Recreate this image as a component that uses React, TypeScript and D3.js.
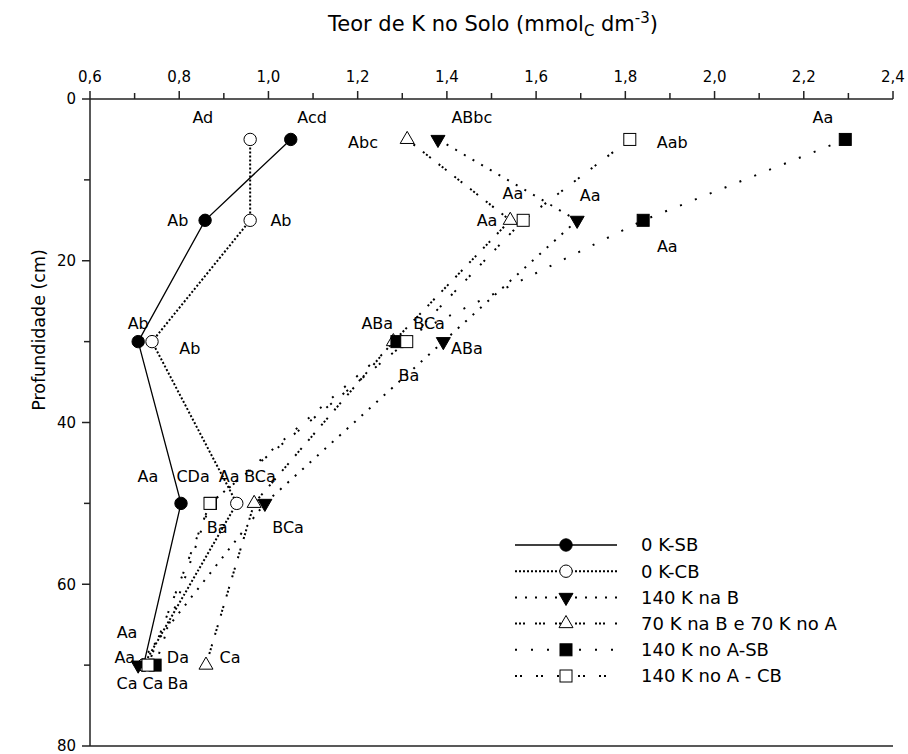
import React, { useEffect } from 'react';
import * as d3 from 'd3';

// depths (cm) and K content per treatment
const depths = [5, 15, 30, 50, 70];
const k0SB = [1.05, 0.858, 0.708, 0.804, 0.72];
const k0CB = [0.959, 0.959, 0.739, 0.929, 0.72];
const k140B = [1.38, 1.692, 1.392, 0.992, 0.708];
const k70B70A = [1.311, 1.542, 1.28, 0.968, 0.86];
const k140ASB = [2.293, 1.84, 1.288, 0.87, 0.746];
const k140ACB = [1.81, 1.571, 1.31, 0.869, 0.73];

const xTicks = [0.6, 0.8, 1.0, 1.2, 1.4, 1.6, 1.8, 2.0, 2.2, 2.4];
const yTicks = [0, 20, 40, 60, 80];

// letter annotations: [text, K value, depth]
const letters: [string, number, number][] = [
  ['Ad', 0.853, 2.2], ['Acd', 1.098, 2.2], ['Abc', 1.212, 5.4], ['ABbc', 1.456, 2.2],
  ['Aab', 1.905, 5.4], ['Aa', 2.243, 2.2],
  ['Ab', 0.797, 15], ['Ab', 1.028, 15], ['Aa', 1.548, 11.7], ['Aa', 1.721, 11.9],
  ['Aa', 1.49, 15], ['Aa', 1.894, 18.2],
  ['Ab', 0.708, 27.7], ['Ab', 0.824, 30.8], ['ABa', 1.244, 27.7], ['BCa', 1.36, 27.7],
  ['ABa', 1.445, 30.8], ['Ba', 1.315, 34.1],
  ['Aa', 0.73, 46.7], ['CDa', 0.831, 46.7], ['Aa', 0.912, 46.7], ['BCa', 0.981, 46.7],
  ['Ba', 0.885, 53], ['BCa', 1.044, 53],
  ['Aa', 0.683, 65.9], ['Aa', 0.678, 69], ['Da', 0.797, 69], ['Ca', 0.914, 69],
  ['Ca', 0.683, 72.3], ['Ca', 0.741, 72.3], ['Ba', 0.797, 72.3],
];

const series = [
  { name: '0 K-SB', values: k0SB, marker: 'circle', fill: '#000', dash: '' },
  { name: '0 K-CB', values: k0CB, marker: 'circle', fill: '#fff', dash: '2,2' },
  { name: '140 K na B', values: k140B, marker: 'tri', fill: '#000', dash: '2,8' },
  { name: '70 K na B e 70 K no A', values: k70B70A, marker: 'tri-up', fill: '#fff', dash: '2,2,2,2,2,10' },
  { name: '140 K no A-SB', values: k140ASB, marker: 'square', fill: '#000', dash: '2,14' },
  { name: '140 K no A - CB', values: k140ACB, marker: 'square', fill: '#fff', dash: '2,3,2,14' },
];

const font = '"DejaVu Sans", Verdana, sans-serif';

const Marker = ({ type, cx, cy, fill }: { type: string; cx: number; cy: number; fill: string }) => {
  if (type === 'circle') return <circle cx={cx} cy={cy} r={6.2} fill={fill} stroke="#000" strokeWidth={1} />;
  if (type === 'square') return <rect x={cx - 6} y={cy - 6} width={12} height={12} fill={fill} stroke="#000" strokeWidth={1} />;
  const sym = d3.symbol().type(d3.symbolTriangle).size(85)();
  const rot = type === 'tri' ? 180 : 0;
  return <path d={sym || ''} transform={`translate(${cx},${cy}) rotate(${rot})`} fill={fill} stroke="#000" strokeWidth={1} />;
};

export default function App() {
  useEffect(() => {
    document.body.style.margin = '0';
    document.documentElement.style.overflow = 'hidden';
  }, []);

  const width = 908;
  const height = 754;
  const x = d3.scaleLinear().domain([0.6, 2.4]).range([90, 893]);
  const y = d3.scaleLinear().domain([0, 80]).range([99, 746]);
  const minorX = d3.range(0.7, 2.4, 0.2);
  const minorY = d3.range(10, 80, 20);
  const line = d3.line<number>().x(d => x(d)).y((_, i) => y(depths[i]));

  return (
    <div style={{ position: 'fixed', left: 0, top: 0, width, height, overflow: 'hidden' }}>
      <svg width={width} height={height} style={{ display: 'block', background: '#fff' }} fontFamily={font}>
        {/* titles */}
        <text x={493} y={31} textAnchor="middle" fontSize={21}>
          Teor de K no Solo (mmol<tspan fontSize={15} dy={5}>C</tspan>
          <tspan dy={-5}> dm</tspan><tspan fontSize={15} dy={-8}>-3</tspan><tspan dy={8}>)</tspan>
        </text>
        <text transform="translate(45,330) rotate(-90)" textAnchor="middle" fontSize={17.5}>Profundidade (cm)</text>

        {/* axes */}
        <g stroke="#222" strokeWidth={1.5}>
          <line x1={90} x2={893} y1={99} y2={99} />
          <line x1={90} x2={893} y1={746} y2={746} />
          <line x1={90} x2={90} y1={99} y2={746} />
          {xTicks.map(t => <line key={t} x1={x(t)} x2={x(t)} y1={99} y2={91} />)}
          {minorX.map(t => <line key={t} x1={x(t)} x2={x(t)} y1={99} y2={93} />)}
          {yTicks.map(t => <line key={t} x1={90} x2={82} y1={y(t)} y2={y(t)} />)}
          {minorY.map(t => <line key={t} x1={90} x2={84} y1={y(t)} y2={y(t)} />)}
        </g>
        {xTicks.map(t => (
          <text key={t} x={x(t)} y={82} textAnchor="middle" fontSize={15}>{d3.format('.1f')(t).replace('.', ',')}</text>
        ))}
        {yTicks.map(t => (
          <text key={t} x={76} y={y(t)} dy="0.36em" textAnchor="end" fontSize={15}>{t}</text>
        ))}

        {/* series lines */}
        {series.map(s => (
          <path key={s.name} d={line(s.values) || ''} fill="none" stroke="#000" strokeWidth={s.dash ? 2 : 1.3} strokeDasharray={s.dash} />
        ))}
        {series.map(s => s.values.map((v, i) => (
          <Marker key={s.name + i} type={s.marker} cx={x(v)} cy={y(depths[i])} fill={s.fill} />
        )))}

        {/* letters */}
        {letters.map(([t, v, d], i) => (
          <text key={i} x={x(v)} y={y(d)} dy="0.36em" textAnchor="middle" fontSize={16}>{t}</text>
        ))}

        {/* legend */}
        {series.map((s, i) => {
          const ly = 545 + i * 26.2;
          return (
            <g key={s.name}>
              <line x1={515} x2={617} y1={ly} y2={ly} stroke="#000" strokeWidth={s.dash ? 2 : 1.3} strokeDasharray={s.dash} />
              <Marker type={s.marker} cx={566} cy={ly} fill={s.fill} />
              <text x={641} y={ly} dy="0.36em" fontSize={18}>{s.name}</text>
            </g>
          );
        })}
      </svg>
    </div>
  );
}
